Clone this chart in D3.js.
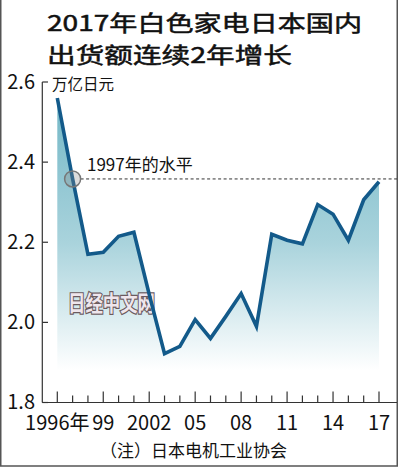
<!DOCTYPE html>
<html><head><meta charset="utf-8">
<script src="https://cdn.jsdelivr.net/npm/d3@7"></script>
<style>html,body{margin:0;padding:0;background:#fff;}svg{display:block;}</style>
</head><body>
<script>
const years = [1996,1997,1998,1999,2000,2001,2002,2003,2004,2005,2006,2007,2008,2009,2010,2011,2012,2013,2014,2015,2016,2017];
const values = [2.56,2.358,2.17,2.175,2.215,2.225,2.07,1.922,1.94,2.007,1.96,2.015,2.072,1.99,2.22,2.205,2.196,2.294,2.27,2.205,2.306,2.351];
const xTickYears = [1996,1999,2002,2005,2008,2011,2014,2017];
const xTickLabels = ["1996年","99","2002","05","08","11","14","17"];
const yTicks = [1.8,2.0,2.2,2.4,2.6];
const yTickLabels = ["1.8","2.0","2.2","2.4","2.6"];
const titleLines = ["2017年白色家电日本国内","出货额连续2年增长"];
const unitLabel = "万亿日元";
const refLabel = "1997年的水平";
const refYear = 1997;
const noteText = "（注）日本电机工业协会";
const watermark = "日经中文网";

const W = 400, H = 468;
const cjk = "'Noto Sans CJK SC', sans-serif";
const narrow = "'Liberation Sans Narrow', 'Arial Narrow', 'Noto Sans CJK SC', sans-serif";
const svg = d3.select("body").append("svg").attr("width", W).attr("height", H);

const x = d3.scaleLinear().domain([1996, 2017]).range([57.3, 379]);
const y = d3.scaleLinear().domain([1.8, 2.6]).range([402.5, 82]);
const data = years.map((yr, i) => ({yr, v: values[i]}));

// frame
svg.append("rect").attr("x", 0.75).attr("y", -2).attr("width", 396.5).attr("height", 468)
  .attr("fill", "none").attr("stroke", "#555").attr("stroke-width", 1.5);

// title
svg.append("g").selectAll("text").data(titleLines).join("text")
  .attr("x", 47).attr("y", (d, i) => 31 + i * 32)
  .attr("font-family", cjk).attr("font-size", 22).attr("fill", "#111")
  .attr("stroke", "#111").attr("stroke-width", 0.5)
  .attr("textLength", (d, i) => i === 0 ? 315 : 245).attr("lengthAdjust", "spacingAndGlyphs")
  .text(d => d);

// gradient
const defs = svg.append("defs");
const grad = defs.append("linearGradient").attr("id", "fillg")
  .attr("gradientUnits", "userSpaceOnUse").attr("x1", 0).attr("x2", 0)
  .attr("y1", y(2.6)).attr("y2", y(1.8));
grad.append("stop").attr("offset", 0).attr("stop-color", "#6db4c4");
grad.append("stop").attr("offset", 0.5).attr("stop-color", "#a9d3dc");
grad.append("stop").attr("offset", 0.9).attr("stop-color", "#ffffff");

const area = d3.area().x(d => x(d.yr)).y0(y(1.8)).y1(d => y(d.v));
svg.append("path").datum(data).attr("d", area).attr("fill", "url(#fillg)");

// watermark
svg.append("text").attr("x", 68).attr("y", 311)
  .attr("font-family", cjk).attr("font-weight", "bold").attr("font-size", 22)
  .attr("fill", "#efe6ec").attr("stroke", "#6b5a5e").attr("stroke-width", 2.4)
  .attr("paint-order", "stroke").attr("textLength", 87).attr("lengthAdjust", "spacingAndGlyphs")
  .text(watermark);

// axes
const axG = svg.append("g");
axG.append("line").attr("x1", 42.3).attr("x2", 42.3).attr("y1", y(2.6)).attr("y2", y(1.8))
  .attr("stroke", "#333").attr("stroke-width", 1.2);
axG.append("line").attr("x1", 42.3).attr("x2", 397).attr("y1", y(1.8)).attr("y2", y(1.8))
  .attr("stroke", "#333").attr("stroke-width", 1.2);
axG.selectAll(".yt").data(yTicks).join("line")
  .attr("x1", 42.3).attr("x2", 48).attr("y1", d => y(d)).attr("y2", d => y(d))
  .attr("stroke", "#333").attr("stroke-width", 1.2);
axG.selectAll(".ytl").data(yTicks).join("text")
  .attr("x", 35).attr("y", d => y(d) + 6.5).attr("text-anchor", "end")
  .attr("font-family", narrow).attr("font-size", 20).attr("fill", "#111")
  .text((d, i) => yTickLabels[i]);
axG.selectAll(".xt").data(years).join("line")
  .attr("x1", d => x(d)).attr("x2", d => x(d))
  .attr("y1", y(1.8)).attr("y2", d => y(1.8) - (xTickYears.includes(d) ? 11 : 7))
  .attr("stroke", "#333").attr("stroke-width", 1.2);
axG.selectAll(".xtl").data(xTickYears).join("text")
  .attr("x", d => x(d)).attr("y", 430).attr("text-anchor", "middle")
  .attr("font-family", narrow).attr("font-size", 20).attr("fill", "#111")
  .text((d, i) => xTickLabels[i]);

// unit
svg.append("text").attr("x", 52).attr("y", 90).attr("font-family", cjk)
  .attr("font-size", 15.5).attr("fill", "#111").text(unitLabel);

// reference line
const refV = values[years.indexOf(refYear)];
svg.append("line").attr("x1", x(refYear) + 8).attr("x2", 397).attr("y1", y(refV)).attr("y2", y(refV))
  .attr("stroke", "#333").attr("stroke-width", 1).attr("stroke-dasharray", "3,2.5");
svg.append("text").attr("x", 87).attr("y", 171).attr("font-family", cjk)
  .attr("font-size", 17).attr("fill", "#111").text(refLabel);

// line
const line = d3.line().x(d => x(d.yr)).y(d => y(d.v));
svg.append("path").datum(data).attr("d", line).attr("fill", "none")
  .attr("stroke", "#135a8a").attr("stroke-width", 3.6).attr("stroke-linejoin", "miter");

// circle
svg.append("circle").attr("cx", x(refYear)).attr("cy", y(refV)).attr("r", 8)
  .attr("fill", "rgba(140,140,140,0.3)").attr("stroke", "#777").attr("stroke-width", 1.5);

// note
svg.append("text").attr("x", 100).attr("y", 457).attr("font-family", cjk)
  .attr("font-size", 17).attr("fill", "#111").text(noteText);
</script>
</body></html>
